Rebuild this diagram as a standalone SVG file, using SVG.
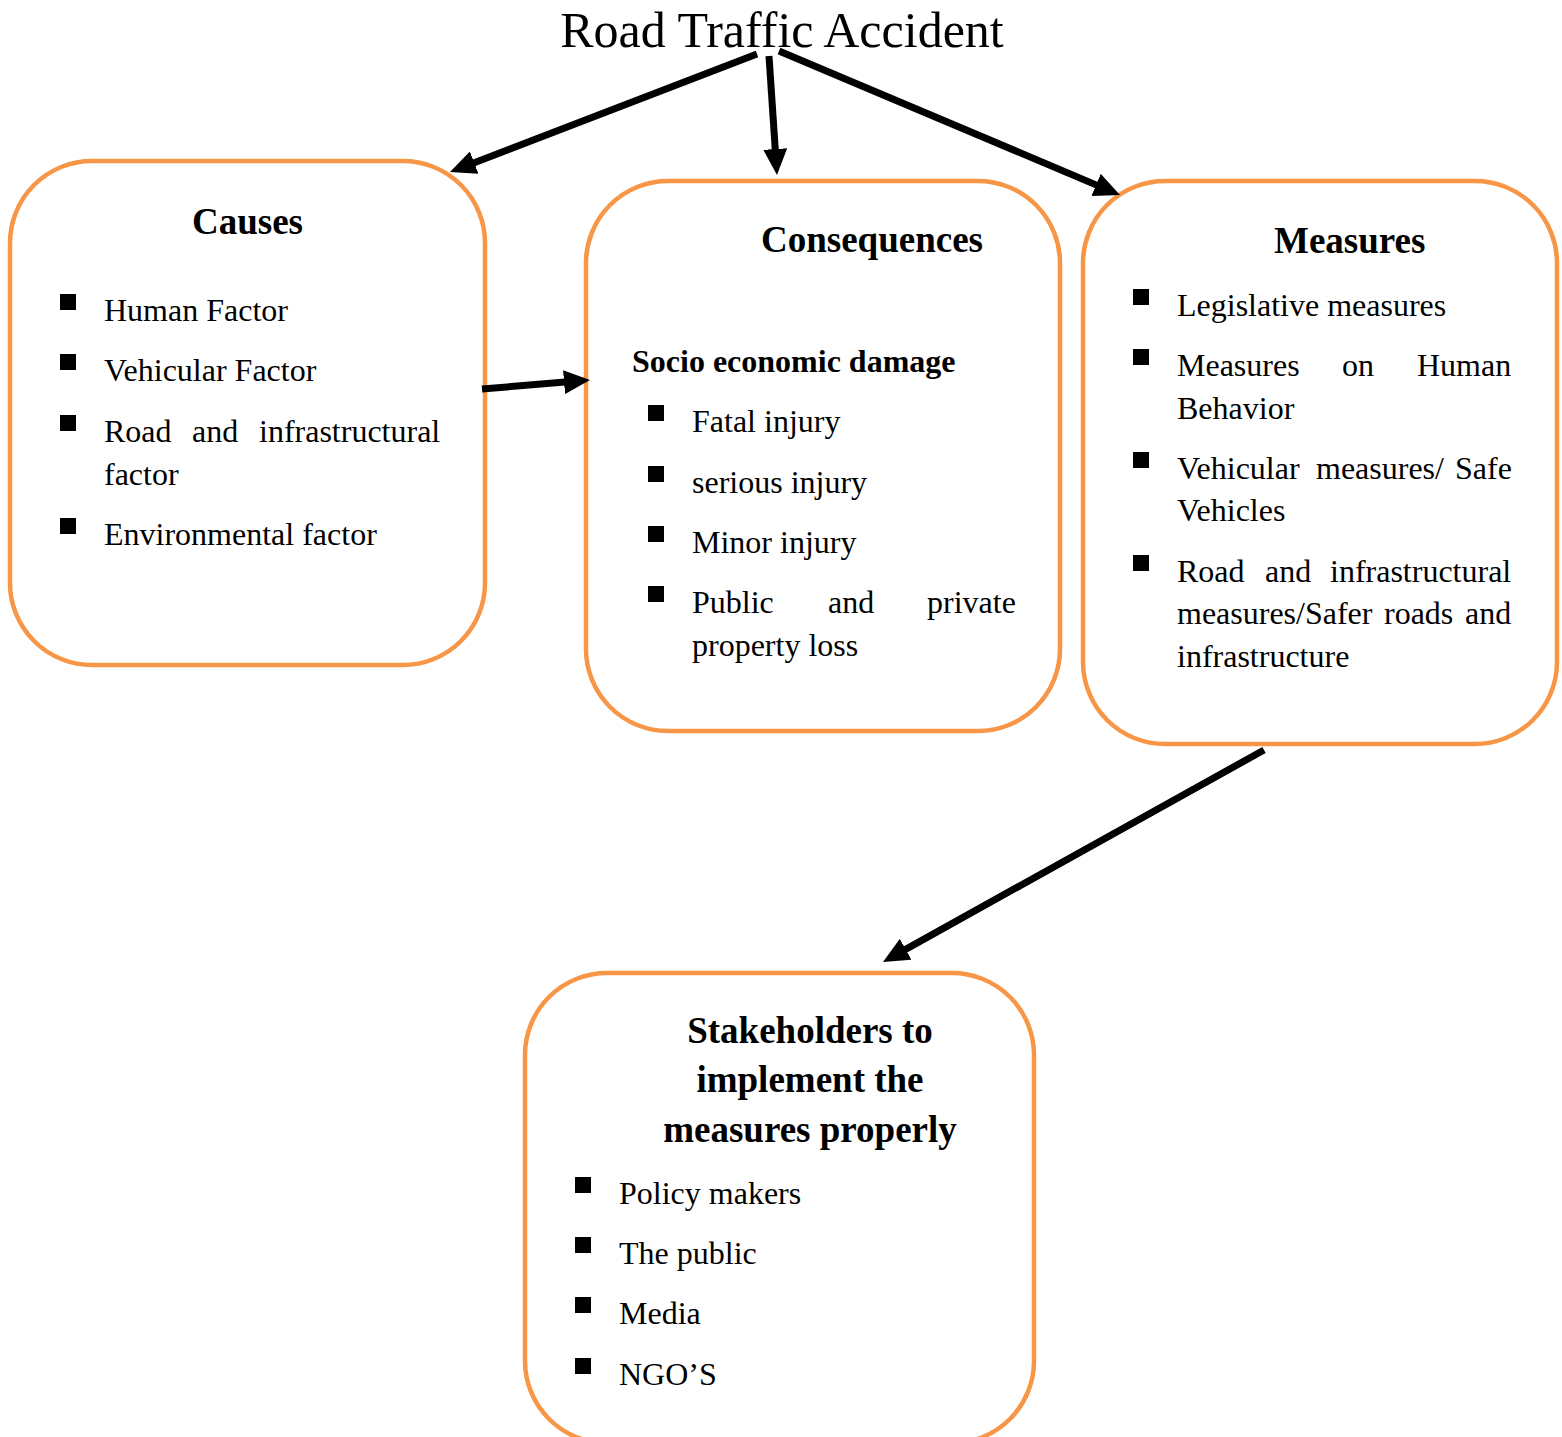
<svg xmlns="http://www.w3.org/2000/svg" width="1562" height="1437" viewBox="0 0 1562 1437">
<defs>
<style>
.box{fill:#fff;stroke:#F79646;stroke-width:4.5}
.t{font-family:"Liberation Serif","Times New Roman",serif;fill:#000;font-size:32px}
.h{font-family:"Liberation Serif","Times New Roman",serif;fill:#000;font-size:37px;font-weight:bold}
.sb{font-family:"Liberation Serif","Times New Roman",serif;fill:#000;font-size:32px;font-weight:bold}
.title{font-family:"Liberation Serif","Times New Roman",serif;fill:#000;font-size:50px}
.b{fill:#000}
.c{stroke:#000;stroke-width:7;fill:none;marker-end:url(#ah)}
</style>
<marker id="ah" viewBox="0 0 26 24" refX="16" refY="12" markerWidth="26" markerHeight="24" markerUnits="userSpaceOnUse" orient="auto">
<path d="M0,0 L26,12 L0,24 z" fill="#000"/>
</marker>
</defs>
<rect width="1562" height="1437" fill="#fff"/>

<g id="title">
<text class="title" x="782" y="47" text-anchor="middle">Road Traffic Accident</text>
</g>

<g id="causes">
<rect class="box" x="10" y="161" width="475" height="504" rx="82" ry="82"/>
<text class="h" x="247.5" y="234" text-anchor="middle">Causes</text>
<rect class="b" x="60" y="294" width="16" height="16"/>
<text class="t" x="104" y="321">Human Factor</text>
<rect class="b" x="60" y="354" width="16" height="16"/>
<text class="t" x="104" y="381">Vehicular Factor</text>
<rect class="b" x="60" y="415" width="16" height="16"/>
<text class="t" y="442"><tspan x="104">Road</tspan><tspan x="192">and</tspan><tspan x="259">infrastructural</tspan></text>
<text class="t" x="104" y="485">factor</text>
<rect class="b" x="60" y="518" width="16" height="16"/>
<text class="t" x="104" y="545">Environmental factor</text>
</g>

<g id="consequences">
<rect class="box" x="586" y="181" width="474" height="550" rx="82" ry="82"/>
<text class="h" x="761" y="252">Consequences</text>
<text class="sb" x="632" y="372">Socio economic damage</text>
<rect class="b" x="648" y="405" width="16" height="16"/>
<text class="t" x="692" y="432">Fatal injury</text>
<rect class="b" x="648" y="466" width="16" height="16"/>
<text class="t" x="692" y="493">serious injury</text>
<rect class="b" x="648" y="526" width="16" height="16"/>
<text class="t" x="692" y="553">Minor injury</text>
<rect class="b" x="648" y="586" width="16" height="16"/>
<text class="t" y="613"><tspan x="692">Public</tspan><tspan x="828">and</tspan><tspan x="927">private</tspan></text>
<text class="t" x="692" y="656">property loss</text>
</g>

<g id="measures">
<rect class="box" x="1083" y="181" width="474" height="563" rx="82" ry="82"/>
<text class="h" x="1274" y="253">Measures</text>
<rect class="b" x="1133" y="289" width="16" height="16"/>
<text class="t" x="1177" y="316">Legislative measures</text>
<rect class="b" x="1133" y="349" width="16" height="16"/>
<text class="t" y="376"><tspan x="1177">Measures</tspan><tspan x="1342">on</tspan><tspan x="1417">Human</tspan></text>
<text class="t" x="1177" y="419">Behavior</text>
<rect class="b" x="1133" y="452" width="16" height="16"/>
<text class="t" y="479"><tspan x="1177">Vehicular</tspan><tspan x="1316">measures/</tspan><tspan x="1455">Safe</tspan></text>
<text class="t" x="1177" y="521">Vehicles</text>
<rect class="b" x="1133" y="555" width="16" height="16"/>
<text class="t" y="582"><tspan x="1177">Road</tspan><tspan x="1265">and</tspan><tspan x="1330">infrastructural</tspan></text>
<text class="t" y="624"><tspan x="1177">measures/Safer</tspan><tspan x="1384">roads</tspan><tspan x="1465">and</tspan></text>
<text class="t" x="1177" y="667">infrastructure</text>
</g>

<g id="stakeholders">
<rect class="box" x="525" y="973" width="509" height="470" rx="82" ry="82"/>
<text class="h" x="810" y="1043" text-anchor="middle">Stakeholders to</text>
<text class="h" x="810" y="1092" text-anchor="middle">implement the</text>
<text class="h" x="810" y="1142" text-anchor="middle">measures properly</text>
<rect class="b" x="575" y="1177" width="16" height="16"/>
<text class="t" x="619" y="1204">Policy makers</text>
<rect class="b" x="575" y="1237" width="16" height="16"/>
<text class="t" x="619" y="1264">The public</text>
<rect class="b" x="575" y="1297" width="16" height="16"/>
<text class="t" x="619" y="1324">Media</text>
<rect class="b" x="575" y="1358" width="16" height="16"/>
<text class="t" x="619" y="1385">NGO’S</text>
</g>

<g id="connectors">
<line class="c" x1="757" y1="54" x2="459.3" y2="168.4"/>
<line class="c" x1="769" y1="56" x2="776.3" y2="165"/>
<line class="c" x1="779" y1="51" x2="1110.8" y2="191.1"/>
<line class="c" x1="482" y1="389" x2="580" y2="380.8"/>
<line class="c" x1="1264" y1="750" x2="891.7" y2="957.1"/>
</g>
</svg>
